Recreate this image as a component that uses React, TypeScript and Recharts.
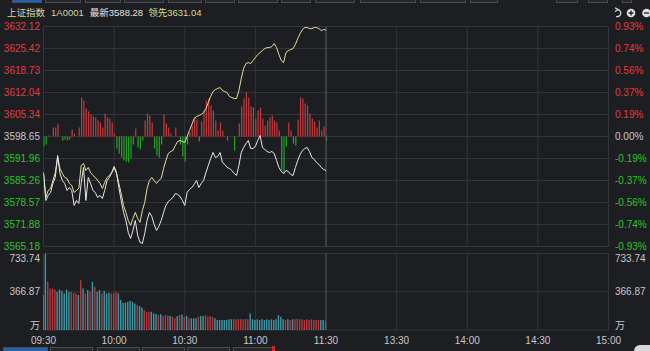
import React from 'react';
import { ComposedChart, Line, Bar, Cell, XAxis, YAxis, CartesianGrid, ReferenceLine } from 'recharts';

const timeTicks = [0, 30, 60, 90, 120, 150, 180, 210, 240];
const timeLabels = ['09:30', '10:00', '10:30', '11:00', '11:30', '13:30', '14:00', '14:30', '15:00'];

const preClose = 3598.65;
const priceTicks = [3565.18, 3571.88, 3578.57, 3585.26, 3591.96, 3598.65, 3605.34, 3612.04, 3618.73, 3625.42, 3632.12];
const volTicks = [0, 366.87, 733.74];

const lastPrice = [
  3587.70, 3579.19, 3580.71, 3581.62, 3584.36, 3586.18, 3592.87, 3587.40, 3585.27, 3584.36,
  3582.23, 3583.14, 3582.23, 3577.67, 3579.19, 3578.28, 3584.36, 3589.22, 3579.19, 3586.18,
  3584.36, 3582.23, 3581.62, 3580.10, 3580.71, 3579.80, 3582.23, 3585.27, 3586.18, 3587.70,
  3589.53, 3587.70, 3583.14, 3579.19, 3575.54, 3573.11, 3569.46, 3567.63, 3570.07, 3573.11,
  3568.55, 3566.42, 3566.11, 3569.15, 3573.11, 3575.54, 3574.32, 3571.89, 3570.07, 3571.28,
  3573.11, 3575.54, 3577.67, 3578.88, 3579.49, 3580.10, 3581.32, 3581.01, 3580.40, 3579.19,
  3577.67, 3581.62, 3582.53, 3583.14, 3584.05, 3585.27, 3583.14, 3584.36, 3585.27, 3587.70,
  3589.83, 3591.96, 3593.78, 3592.26, 3592.57, 3593.78, 3590.74, 3590.14, 3589.22, 3588.92,
  3588.31, 3587.40, 3586.79, 3589.83, 3593.78, 3595.30, 3596.52, 3597.43, 3595.00, 3595.00,
  3595.61, 3597.43, 3598.95, 3595.30, 3594.70, 3594.09, 3593.78, 3594.09, 3593.48, 3591.35,
  3589.22, 3588.01, 3587.40, 3588.31, 3588.01, 3587.09, 3586.79, 3589.22, 3591.35, 3593.18,
  3594.39, 3595.00, 3595.30, 3594.09, 3592.26, 3591.66, 3590.74, 3590.14, 3589.22, 3588.62,
  3588.28,
];

const leadIndex = [
  3587.70, 3580.10, 3582.23, 3582.84, 3585.27, 3587.70, 3592.26, 3588.92, 3587.40, 3586.18,
  3585.88, 3584.36, 3583.75, 3581.62, 3582.23, 3582.84, 3589.83, 3590.44, 3588.31, 3589.22,
  3587.70, 3586.79, 3586.18, 3585.27, 3584.36, 3582.84, 3584.66, 3586.18, 3586.79, 3587.70,
  3589.22, 3587.40, 3584.36, 3581.32, 3577.67, 3575.54, 3573.11, 3571.59, 3573.71, 3575.54,
  3573.71, 3572.50, 3576.15, 3578.58, 3582.84, 3585.27, 3586.18, 3585.27, 3584.36, 3585.27,
  3585.88, 3588.92, 3591.35, 3593.48, 3594.09, 3594.39, 3595.91, 3597.13, 3597.43, 3597.13,
  3596.83, 3598.65, 3600.47, 3602.30, 3604.12, 3604.73, 3605.04, 3605.34, 3605.95, 3607.16,
  3608.99, 3610.81, 3612.33, 3612.94, 3613.25, 3613.55, 3612.64, 3612.33, 3612.03, 3610.81,
  3610.51, 3610.21, 3610.21, 3612.64, 3616.29, 3619.33, 3620.85, 3621.15, 3620.85, 3621.76,
  3622.67, 3623.59, 3624.19, 3624.80, 3625.41, 3625.71, 3625.71, 3626.02, 3626.93, 3625.71,
  3623.59, 3621.76, 3621.15, 3624.19, 3624.80, 3625.11, 3625.41, 3626.63, 3628.45, 3629.97,
  3631.19, 3631.80, 3631.80, 3631.49, 3631.49, 3631.80, 3631.80, 3631.49, 3630.88, 3631.19,
  3631.04,
];

const strength = [
  -10, -8, 1, 0, 9, 9, 13, 0, -4, -3,
  -4, -3, 7, 3, 0, 9, 39, 36, 28, 25,
  22, 20, 19, 16, 14, 9, 23, 19, 18, 14,
  3, -12, -17, -21, -24, -25, -26, -22, -8, 8,
  -11, -13, -4, 16, 23, 21, 14, -12, -19, -21,
  -8, 22, 13, 9, 3, 0, 9, 0, -8, -20,
  -25, -8, 4, 11, 19, 17, -5, 15, 26, 36,
  38, 31, 26, 16, 6, 14, 6, 0, -4, 0,
  0, -14, 0, 13, 30, 38, 44, 39, 30, 29,
  18, 26, 29, 18, 11, 16, 19, 21, 16, 14,
  6, -34, -37, -10, 14, 6, -7, -9, 17, 39,
  38, 33, 31, 23, 18, 15, 9, 16, 6, 10,
  -4,
];

const volume = [
  335, 733.74, 462, 399, 399, 389, 367, 389, 376, 351,
  389, 367, 367, 357, 351, 335, 478, 399, 351, 384,
  367, 462, 415, 367, 384, 351, 376, 351, 357, 351,
  351, 367, 351, 287, 262, 262, 271, 281, 271, 255,
  239, 230, 217, 191, 175, 175, 175, 159, 153, 143,
  150, 134, 143, 138, 134, 128, 112, 134, 143, 150,
  128, 134, 112, 112, 112, 112, 128, 134, 134, 143,
  128, 134, 128, 112, 96, 96, 96, 96, 96, 102,
  102, 102, 102, 106, 106, 102, 106, 102, 159, 102,
  96, 102, 96, 102, 96, 102, 96, 102, 96, 102,
  143, 128, 102, 96, 102, 96, 102, 102, 106, 102,
  102, 96, 102, 96, 102, 96, 96, 96, 96, 96,
  90,
];

const volumeDir =
  'w' + 'crrrrccccc' + 'crrrcrcrcr' + 'crccrcccrr' + 'rccccccccr' + 'ccrrrcccrc' + 'rrrcrrcrcr' +
  'crcccrccrr' + 'rrcccccccc' + 'rrrrrrrccc' + 'cccccccccc' + 'ccrcrcrrrr' + 'rrrrrrrccc';

const rows = lastPrice.map((p, i) => ({
  m: i,
  price: p,
  lead: leadIndex[i],
  str: strength[i],
  vol: volume[i],
}));

const BG = '#1d1e22';
const GRID = '#33353a';
const RED = '#e8383d';
const GREEN = '#2bc52b';
const NEUTRAL = '#c8c8c8';
const FONT = "'Liberation Sans', 'Noto Sans CJK SC', sans-serif";

const colorFor = (v: number) => (Math.abs(v - preClose) < 0.005 ? NEUTRAL : v > preClose ? RED : GREEN);

const LeftPriceTick = (props: any) => {
  const { y, payload } = props;
  const v = payload.value as number;
  return (
    <text x={40} y={y} dy={3.5} textAnchor="end" fontSize={10} fontFamily={FONT} fill={colorFor(v)}>
      {v.toFixed(2)}
    </text>
  );
};

const RightPctTick = (props: any) => {
  const { y, payload } = props;
  const v = payload.value as number;
  const pct = ((v - preClose) / preClose) * 100;
  const txt = (Math.abs(pct) < 0.005 ? '0.00' : pct.toFixed(2)) + '%';
  return (
    <text x={615} y={y} dy={3.5} textAnchor="start" fontSize={10} fontFamily={FONT} fill={colorFor(v)}>
      {txt}
    </text>
  );
};

const volLabel = (v: number) => (v === 0 ? '万' : v.toFixed(2));
const volDy = (v: number) => (v === 0 ? -1 : v === volTicks[volTicks.length - 1] ? 8 : 3.5);

const LeftVolTick = (props: any) => {
  const { y, payload } = props;
  const v = payload.value as number;
  return (
    <text x={40} y={y} dy={volDy(v)} textAnchor="end" fontSize={10} fontFamily={FONT} fill={NEUTRAL}>
      {volLabel(v)}
    </text>
  );
};

const RightVolTick = (props: any) => {
  const { y, payload } = props;
  const v = payload.value as number;
  return (
    <text x={615} y={y} dy={volDy(v)} textAnchor="start" fontSize={10} fontFamily={FONT} fill={NEUTRAL}>
      {volLabel(v)}
    </text>
  );
};

const TimeTick = (props: any) => {
  const { x, payload } = props;
  const idx = timeTicks.indexOf(payload.value);
  return (
    <text x={x} y={340} dy={3.5} textAnchor="middle" fontSize={10} fontFamily={FONT} fill={NEUTRAL}>
      {timeLabels[idx]}
    </text>
  );
};

const topTabs: [number, number, boolean][] = [
  [12, 30, true], [45, 36, false], [85, 36, false], [124, 40, false], [168, 34, false], [205, 30, false],
  [238, 40, false], [281, 30, false], [315, 40, false], [360, 56, false], [420, 46, false], [470, 28, false],
  [556, 22, false], [588, 20, false], [622, 10, false],
];
const bottomTabs: [number, number, boolean][] = [
  [3, 45, true], [50, 43, false], [97, 43, false], [142, 43, false], [187, 43, false], [233, 40, false],
];

export default function App() {
  return (
    <div style={{ position: 'absolute', left: 0, top: 0, width: 650, height: 351, background: BG, overflow: 'hidden', fontFamily: FONT }}>
      {topTabs.map(([x, w, active], i) => (
        <div key={'t' + i} style={{ position: 'absolute', left: x, top: -6, width: w, height: 9, border: '1px solid #4a4b50', background: active ? '#2362b0' : '#26272b', boxSizing: 'border-box' }} />
      ))}
      {bottomTabs.map(([x, w, active], i) => (
        <div key={'b' + i} style={{ position: 'absolute', left: x, top: 347, width: w, height: 10, border: '1px solid #4a4b50', background: active ? '#2362b0' : '#26272b', boxSizing: 'border-box' }} />
      ))}
      <div style={{ position: 'absolute', left: 272, top: 346, width: 3, height: 6, background: '#e02020' }} />
      <div style={{ position: 'absolute', left: 634, top: 345, width: 24, height: 12, borderRadius: 6, background: '#d8d8d8' }} />
      <div style={{ position: 'absolute', left: 7, top: 6, fontSize: 9.5, lineHeight: '14px', whiteSpace: 'nowrap' }}>
        <span style={{ color: '#d2d4b0' }}>上证指数</span>
        <span style={{ color: '#cfd6a6', marginLeft: 6 }}>1A0001</span>
        <span style={{ color: '#e2e2e2', marginLeft: 6 }}>最新3588.28</span>
        <span style={{ color: '#d8d890', marginLeft: 5 }}>领先3631.04</span>
      </div>
      <svg style={{ position: 'absolute', left: 612, top: 6 }} width={40} height={14}>
        <path d="M5 3.5 A3.6 3.6 0 1 1 4 10.5" stroke="#d8d8d8" strokeWidth={1.3} fill="none" />
        <path d="M3 1.8 L6 3.5 L3 5.5" stroke="#d8d8d8" strokeWidth={1.2} fill="none" />
        <circle cx={19} cy={7} r={4.3} fill="#e0e0e0" />
        <path d="M16.6 7 H21.4 M19 4.6 V9.4" stroke={BG} strokeWidth={1.3} />
        <circle cx={34.5} cy={7} r={4.3} fill="#e0e0e0" />
        <path d="M32 7 H37" stroke={BG} strokeWidth={1.3} />
      </svg>

      <div style={{ position: 'absolute', left: 0, top: 0 }}>
        <ComposedChart width={650} height={260} data={rows} margin={{ top: 26.5, right: 0, bottom: 13.5, left: 0 }}>
          <CartesianGrid yAxisId="price" stroke={GRID} strokeWidth={1} />
          <XAxis dataKey="m" type="number" domain={[0, 240]} ticks={timeTicks} allowDataOverflow hide />
          <YAxis yAxisId="price" type="number" domain={[priceTicks[0], priceTicks[priceTicks.length - 1]]} ticks={priceTicks} interval={0} allowDataOverflow width={43.5} axisLine={false} tickLine={false} tick={<LeftPriceTick />} />
          <YAxis yAxisId="pct" orientation="right" type="number" domain={[priceTicks[0], priceTicks[priceTicks.length - 1]]} ticks={priceTicks} interval={0} allowDataOverflow width={41.5} axisLine={false} tickLine={false} tick={<RightPctTick />} />
          <YAxis yAxisId="str" type="number" domain={[-110, 110]} allowDataOverflow hide />
          <ReferenceLine yAxisId="price" x={120} stroke="#55575d" strokeWidth={1} />
          <Bar yAxisId="str" dataKey="str" barSize={1.2} isAnimationActive={false}>
            {strength.map((v, i) => (
              <Cell key={i} fill={v >= 0 ? '#c8393d' : '#22a722'} />
            ))}
          </Bar>
          <Line yAxisId="price" dataKey="lead" type="linear" stroke="#e0e09a" strokeWidth={1} dot={false} isAnimationActive={false} />
          <Line yAxisId="price" dataKey="price" type="linear" stroke="#e8e8e8" strokeWidth={1} dot={false} isAnimationActive={false} />
        </ComposedChart>
      </div>

      <div style={{ position: 'absolute', left: 0, top: 0 }}>
        <ComposedChart width={650} height={351} data={rows} margin={{ top: 253.5, right: 0, bottom: 0, left: 0 }}>
          <CartesianGrid yAxisId="vol" stroke={GRID} strokeWidth={1} />
          <XAxis dataKey="m" type="number" domain={[0, 240]} ticks={timeTicks} interval={0} allowDataOverflow height={21} axisLine={false} tickLine={false} tick={<TimeTick />} />
          <YAxis yAxisId="vol" type="number" domain={[0, 733.74]} ticks={volTicks} interval={0} allowDataOverflow width={43.5} axisLine={false} tickLine={false} tick={<LeftVolTick />} />
          <YAxis yAxisId="vol2" orientation="right" type="number" domain={[0, 733.74]} ticks={volTicks} interval={0} allowDataOverflow width={41.5} axisLine={false} tickLine={false} tick={<RightVolTick />} />
          <ReferenceLine yAxisId="vol" x={120} stroke="#4a4c52" strokeWidth={1} />
          <Bar yAxisId="vol" dataKey="vol" barSize={1.4} isAnimationActive={false}>
            {volume.map((v, i) => (
              <Cell key={i} fill={volumeDir[i] === 'w' ? '#d8d8d8' : volumeDir[i] === 'r' ? '#b8393c' : '#3a9aa8'} />
            ))}
          </Bar>
        </ComposedChart>
      </div>
    </div>
  );
}
